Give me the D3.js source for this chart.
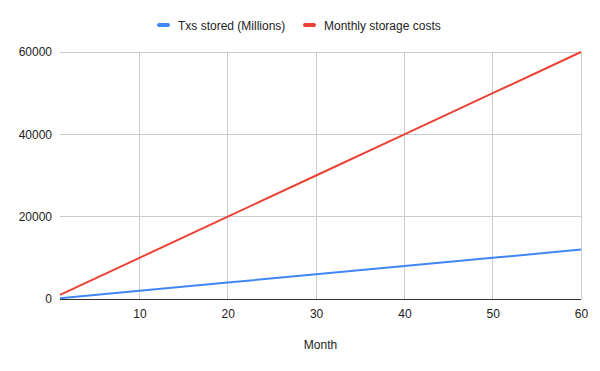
<!DOCTYPE html>
<html>
<head>
<meta charset="utf-8">
<script src="https://cdn.jsdelivr.net/npm/d3@7"></script>
<style>
  body { margin: 0; background: #fff; }
  text { font-family: Arial, "Liberation Sans", sans-serif; }
</style>
</head>
<body>
<div id="chart"></div>
<script>
// values
var months = [1, 10, 20, 30, 40, 50, 60];
var txsStored = [200, 2000, 4000, 6000, 8000, 10000, 12000];
var storageCosts = [1000, 10000, 20000, 30000, 40000, 50000, 60000];
var seriesNames = ["Txs stored (Millions)", "Monthly storage costs"];
var colors = ["#4285F4", "#EA4335"];
var xTicks = [10, 20, 30, 40, 50, 60];
var yTicks = [0, 20000, 40000, 60000];

var width = 600, height = 371;
var margin = { top: 52, right: 19, bottom: 72, left: 60 };
var graphWidth = width - margin.left - margin.right;
var graphHeight = height - margin.top - margin.bottom;

var svg = d3.select("#chart")
    .append("svg")
    .attr("width", width)
    .attr("height", height);

var svg_g = svg.append("g")
    .attr("transform", `translate(${margin.left},${margin.top})`);

var xScale = d3.scaleLinear().domain([1, 60]).range([0, graphWidth]);
var yScale = d3.scaleLinear().domain([0, 60000]).range([graphHeight, 0]);

// gridlines
svg_g.append("g")
    .selectAll("line")
    .data(yTicks.filter(d => d !== 0))
    .join("line")
    .attr("x1", 0).attr("x2", graphWidth)
    .attr("y1", d => yScale(d)).attr("y2", d => yScale(d))
    .attr("stroke", "#cccccc").attr("stroke-width", 1)
    .attr("shape-rendering", "crispEdges");

svg_g.append("g")
    .selectAll("line")
    .data(xTicks)
    .join("line")
    .attr("x1", d => xScale(d)).attr("x2", d => xScale(d))
    .attr("y1", 0).attr("y2", graphHeight)
    .attr("stroke", "#cccccc").attr("stroke-width", 1)
    .attr("shape-rendering", "crispEdges");

// axes
var yAxis = svg_g.append("g")
    .call(d3.axisLeft(yScale).tickValues(yTicks).tickSize(0).tickPadding(8).tickFormat(d3.format("d")));
yAxis.select(".domain").remove();
yAxis.selectAll("text")
    .style("font-size", "12px")
    .style("fill", "#222");

var xAxis = svg_g.append("g")
    .attr("transform", `translate(0,${graphHeight})`)
    .call(d3.axisBottom(xScale).tickValues(xTicks).tickSize(0).tickPadding(10));
xAxis.select(".domain").remove();
xAxis.selectAll("text")
    .style("font-size", "12px")
    .style("fill", "#222");

// lines
var seriesData = [txsStored, storageCosts];
var line = d3.line()
    .x((d, i) => xScale(months[i]))
    .y(d => yScale(d));

seriesData.forEach((vals, i) => {
    svg_g.append("path")
        .datum(vals)
        .attr("fill", "none")
        .attr("stroke", colors[i])
        .attr("stroke-width", 2)
        .attr("d", line);
});

// baseline
svg_g.append("line")
    .attr("x1", 0).attr("x2", graphWidth)
    .attr("y1", graphHeight).attr("y2", graphHeight)
    .attr("stroke", "#333").attr("stroke-width", 1)
    .attr("shape-rendering", "crispEdges");

// axis title
svg.append("text")
    .attr("x", margin.left + graphWidth / 2)
    .attr("y", 349)
    .attr("text-anchor", "middle")
    .style("font-size", "12px")
    .style("fill", "#222")
    .text("Month");

// legend
var legendX = [157, 303];
seriesNames.forEach((name, i) => {
    svg.append("rect")
        .attr("x", legendX[i]).attr("y", 23)
        .attr("width", 13).attr("height", 4)
        .attr("rx", 2)
        .attr("fill", colors[i]);
    svg.append("text")
        .attr("x", legendX[i] + 21)
        .attr("y", 30)
        .style("font-size", "12px")
        .style("fill", "#222")
        .text(name);
});
</script>
</body>
</html>
